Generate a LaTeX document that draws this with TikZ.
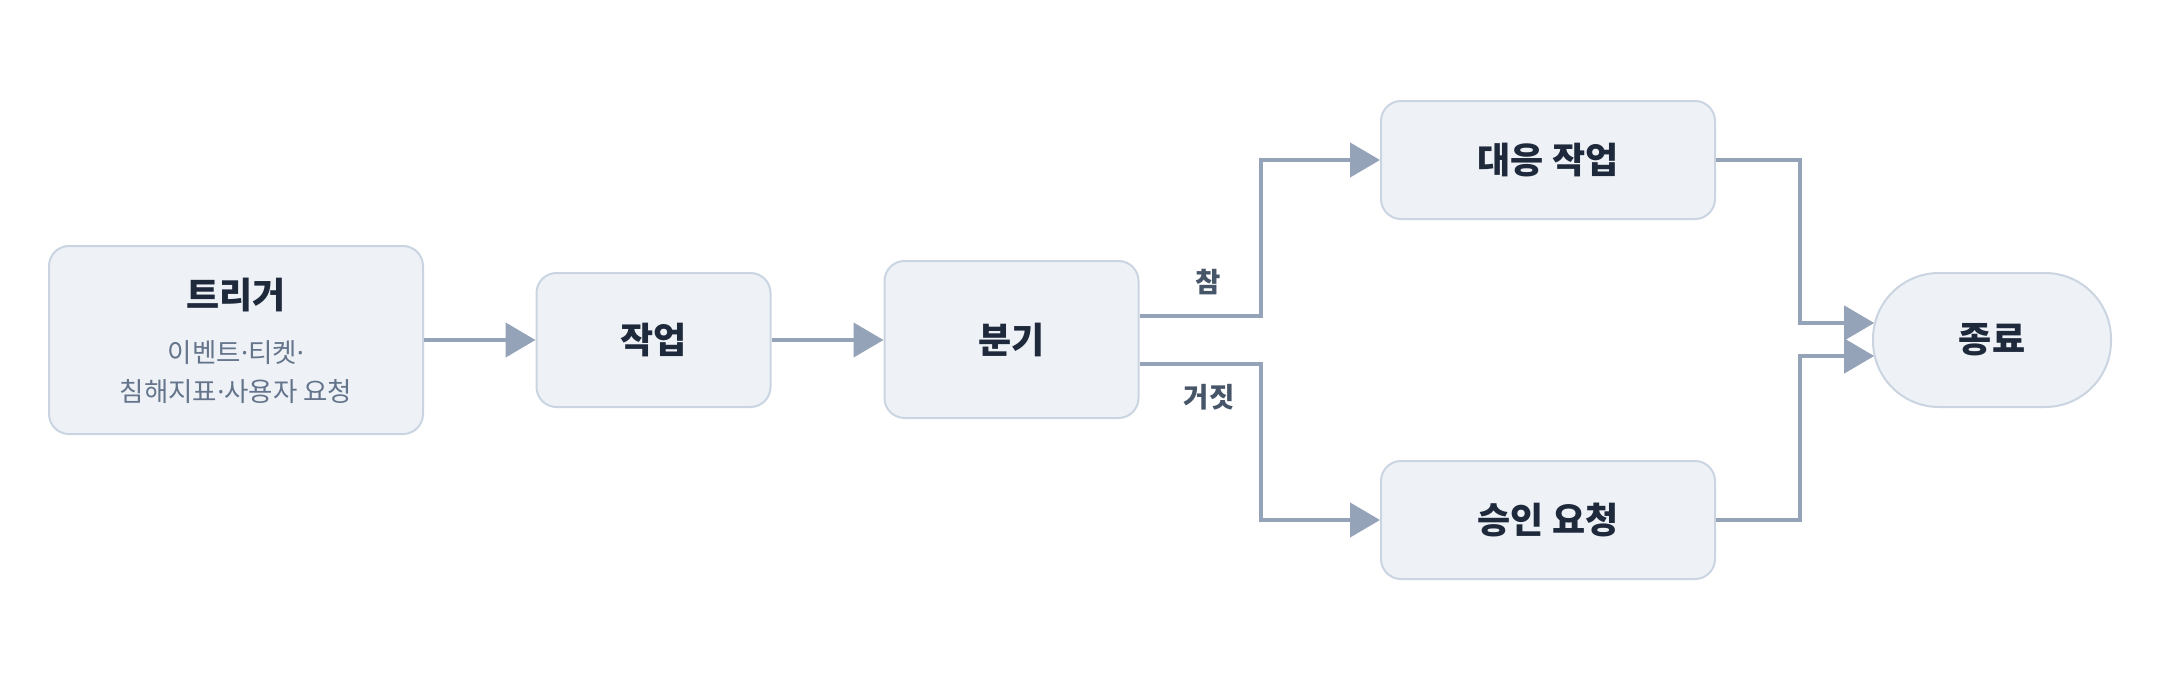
\documentclass[tikz,border=0pt]{standalone}
\usepackage{fontspec}
\newfontfamily\kr{Noto Sans CJK KR}
\newfontfamily\dotfont{Noto Sans}
\newcommand{\mdot}{{\dotfont ·}}
\usetikzlibrary{arrows.meta,calc}
\definecolor{boxfill}{HTML}{EEF2F7}
\definecolor{boxline}{HTML}{CBD5E1}
\definecolor{flowc}{HTML}{94A3B8}
\definecolor{txt}{HTML}{1E293B}
\definecolor{subtxt}{HTML}{64748B}
\definecolor{lbl}{HTML}{475569}
\tikzset{
  box/.style={draw=boxline, line width=2pt, fill=boxfill, rounded corners=20pt, inner sep=0pt, text=txt,
    font=\kr\bfseries\fontsize{36}{42}\selectfont},
  pill/.style={box, rounded corners=66pt},
  flow/.style={draw=flowc, line width=4.5pt, -{Triangle[length=30pt,width=34pt]}},
  ttl/.style={text=txt, font=\kr\bfseries\fontsize{36}{42}\selectfont, inner sep=0pt},
  subt/.style={text=subtxt, font=\kr\fontsize{26.5}{30}\selectfont, inner sep=0pt},
  lab/.style={text=lbl, font=\kr\bfseries\fontsize{27.5}{32}\selectfont, inner sep=0pt}
}
\begin{document}
\begin{tikzpicture}[x=1pt,y=-1pt]
\useasboundingbox[fill=white] (0,0) rectangle (2176,680);
\node[box, minimum width=374pt, minimum height=188pt] (trig) at (236,340) {};
\node[ttl] (trigt) at (236,295) {트리거};
\node[subt] (trigs1) at (236,353) {이벤트\mdot 티켓\mdot};
\node[subt] (trigs2) at (236,392) {침해지표\mdot 사용자 요청};
\node[box, minimum width=234pt, minimum height=134pt] (work) at (653.5,340) {작업};
\node[box, minimum width=254pt, minimum height=157pt] (br) at (1011.5,339.5) {분기};
\node[box, minimum width=334pt, minimum height=118pt] (resp) at (1548,160) {대응 작업};
\node[box, minimum width=334pt, minimum height=118pt] (appr) at (1548,520) {승인 요청};
\node[pill, minimum width=238pt, minimum height=134pt] (end) at (1992,340) {종료};
\draw[flow] (trig.east) -- (work.west);
\draw[flow] (work.east) -- (work.east -| br.west);
\draw[flow] ($(br.east)+(0,-23.5)$) -- ++(121.5,0) |- (resp.west);
\draw[flow] ($(br.east)+(0,24.5)$) -- ++(121.5,0) |- (appr.west);
\draw[flow] (resp.east) -- ++(84,0) |- ($(end.west)+(2.2,-17)$);
\draw[flow] (appr.east) -- ++(84,0) |- ($(end.west)+(2.2,16)$);
\node[lab] (ltrue) at (1208,282) {참};
\node[lab] (lfalse) at (1209,397) {거짓};
\end{tikzpicture}
\end{document}
